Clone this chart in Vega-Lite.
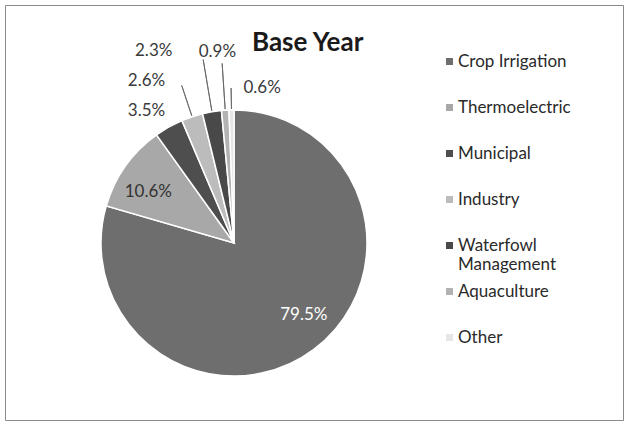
{
  "$schema": "https://vega.github.io/schema/vega-lite/v6.json",
  "autosize": "none",
  "padding": {"left": 5, "top": 5, "right": 1, "bottom": 1},
  "width": 618,
  "height": 415,
  "background": "white",
  "view": {"stroke": "#8a8a8a", "strokeWidth": 1, "fill": "white"},
  "title": {
    "text": "Base Year",
    "anchor": "start",
    "frame": "group",
    "orient": "top",
    "baseline": "alphabetic",
    "dx": 247,
    "dy": 76,
    "font": "Lato",
    "fontSize": 26,
    "fontWeight": "bold",
    "color": "#1a1a1a"
  },
  "data": {
    "values": [
      {"Category": "Crop Irrigation", "Share": 79.5, "Label": "79.5%", "Rank": 1},
      {"Category": "Thermoelectric", "Share": 10.6, "Label": "10.6%", "Rank": 2},
      {"Category": "Municipal", "Share": 3.5, "Label": "3.5%", "Rank": 3},
      {"Category": "Industry", "Share": 2.6, "Label": "2.6%", "Rank": 4},
      {"Category": "Waterfowl Management", "Share": 2.3, "Label": "2.3%", "Rank": 5},
      {"Category": "Aquaculture", "Share": 0.9, "Label": "0.9%", "Rank": 6},
      {"Category": "Other", "Share": 0.6, "Label": "0.6%", "Rank": 7}
    ]
  },
  "encoding": {
    "theta": {"field": "Share", "type": "quantitative", "stack": true, "scale": {"domain": [0, 100]}},
    "order": {"field": "Rank", "type": "quantitative"}
  },
  "layer": [
    {
      "transform": [{"stack": "Share", "groupby": [], "sort": [{"field": "Rank", "order": "ascending"}], "as": ["s0", "s1"]}],
      "mark": {"type": "arc", "x": 229, "y": 238, "innerRadius": 134, "outerRadius": 166, "thetaOffset": 0.0817, "theta2Offset": 0.0817, "fill": null, "strokeWidth": 0.9},
      "encoding": {
        "theta": {"field": "s0", "type": "quantitative"},
        "theta2": {"field": "s0"},
        "stroke": {"condition": {"test": "datum.Category == 'Industry'", "value": "#666666"}, "value": null}
      }
    },
    {
      "transform": [{"stack": "Share", "groupby": [], "sort": [{"field": "Rank", "order": "ascending"}], "as": ["s0", "s1"]}],
      "mark": {"type": "arc", "x": 229, "y": 238, "innerRadius": 134, "outerRadius": 186, "thetaOffset": 0.0723, "theta2Offset": 0.0723, "fill": null, "strokeWidth": 0.9},
      "encoding": {
        "theta": {"field": "s0", "type": "quantitative"},
        "theta2": {"field": "s0"},
        "stroke": {"condition": {"test": "datum.Category == 'Waterfowl Management'", "value": "#666666"}, "value": null}
      }
    },
    {
      "transform": [{"stack": "Share", "groupby": [], "sort": [{"field": "Rank", "order": "ascending"}], "as": ["s0", "s1"]}],
      "mark": {"type": "arc", "x": 229, "y": 238, "innerRadius": 134, "outerRadius": 180, "thetaOffset": 0.0283, "theta2Offset": 0.0283, "fill": null, "strokeWidth": 0.9},
      "encoding": {
        "theta": {"field": "s0", "type": "quantitative"},
        "theta2": {"field": "s0"},
        "stroke": {"condition": {"test": "datum.Category == 'Aquaculture'", "value": "#666666"}, "value": null}
      }
    },
    {
      "transform": [{"stack": "Share", "groupby": [], "sort": [{"field": "Rank", "order": "ascending"}], "as": ["s0", "s1"]}],
      "mark": {"type": "arc", "x": 229, "y": 238, "innerRadius": 134, "outerRadius": 155, "thetaOffset": 0.0189, "theta2Offset": 0.0189, "fill": null, "strokeWidth": 0.9},
      "encoding": {
        "theta": {"field": "s0", "type": "quantitative"},
        "theta2": {"field": "s0"},
        "stroke": {"condition": {"test": "datum.Category == 'Other'", "value": "#666666"}, "value": null}
      }
    },
    {
      "mark": {"type": "arc", "x": 229, "y": 238, "outerRadius": 133, "stroke": "white", "strokeWidth": 1.5},
      "encoding": {
        "color": {
          "field": "Category",
          "type": "nominal",
          "scale": {
            "domain": ["Crop Irrigation", "Thermoelectric", "Municipal", "Industry", "Waterfowl Management", "Aquaculture", "Other"],
            "range": ["#6e6e6e", "#a8a8a8", "#4e4e4e", "#bcbcbc", "#494949", "#b3b3b3", "#e6e6e6"]
          },
          "legend": {
            "title": null,
            "orient": "none",
            "legendX": 436,
            "legendY": 48,
            "symbolType": "square",
            "symbolSize": 49,
            "symbolStrokeWidth": 0,
            "labelFont": "Lato",
            "labelFontSize": 17,
            "labelColor": "#2a2a2a",
            "labelOffset": 0,
            "labelLimit": 200,
            "columns": 1,
            "gridAlign": "all",
            "rowPadding": 9,
            "padding": 0,
            "labelExpr": "datum.label == 'Waterfowl Management' ? ['Waterfowl', 'Management'] : datum.label"
          }
        }
      }
    },
    {
      "mark": {"type": "text", "x": 229, "y": 238, "radius": 103, "dx": 8, "dy": -10, "font": "Lato", "fontSize": 17, "fill": "white"},
      "encoding": {
        "text": {"condition": {"test": "datum.Category == 'Crop Irrigation'", "field": "Label"}, "value": ""}
      }
    },
    {
      "mark": {"type": "text", "x": 229, "y": 238, "radius": 100, "dx": -4, "dy": 7, "font": "Lato", "fontSize": 17, "fill": "#333333"},
      "encoding": {
        "text": {"condition": {"test": "datum.Category == 'Thermoelectric'", "field": "Label"}, "value": ""}
      }
    },
    {
      "mark": {"type": "text", "x": 229, "y": 238, "radius": 150, "dx": -14, "dy": -1, "font": "Lato", "fontSize": 17, "fill": "#3a3a3a"},
      "encoding": {
        "text": {"condition": {"test": "datum.Category == 'Municipal'", "field": "Label"}, "value": ""}
      }
    },
    {
      "mark": {"type": "text", "x": 229, "y": 238, "radius": 170, "dx": -34, "dy": -1, "font": "Lato", "fontSize": 17, "fill": "#3a3a3a"},
      "encoding": {
        "text": {"condition": {"test": "datum.Category == 'Industry'", "field": "Label"}, "value": ""}
      }
    },
    {
      "mark": {"type": "text", "x": 229, "y": 238, "radius": 195, "dx": -48, "dy": 0, "font": "Lato", "fontSize": 17, "fill": "#3a3a3a"},
      "encoding": {
        "text": {"condition": {"test": "datum.Category == 'Waterfowl Management'", "field": "Label"}, "value": ""}
      }
    },
    {
      "mark": {"type": "text", "x": 229, "y": 238, "radius": 192, "dx": -4, "dy": 1, "font": "Lato", "fontSize": 17, "fill": "#3a3a3a"},
      "encoding": {
        "text": {"condition": {"test": "datum.Category == 'Aquaculture'", "field": "Label"}, "value": ""}
      }
    },
    {
      "mark": {"type": "text", "x": 229, "y": 238, "radius": 155, "dx": 31, "dy": 0, "font": "Lato", "fontSize": 17, "fill": "#3a3a3a"},
      "encoding": {
        "text": {"condition": {"test": "datum.Category == 'Other'", "field": "Label"}, "value": ""}
      }
    }
  ]
}
